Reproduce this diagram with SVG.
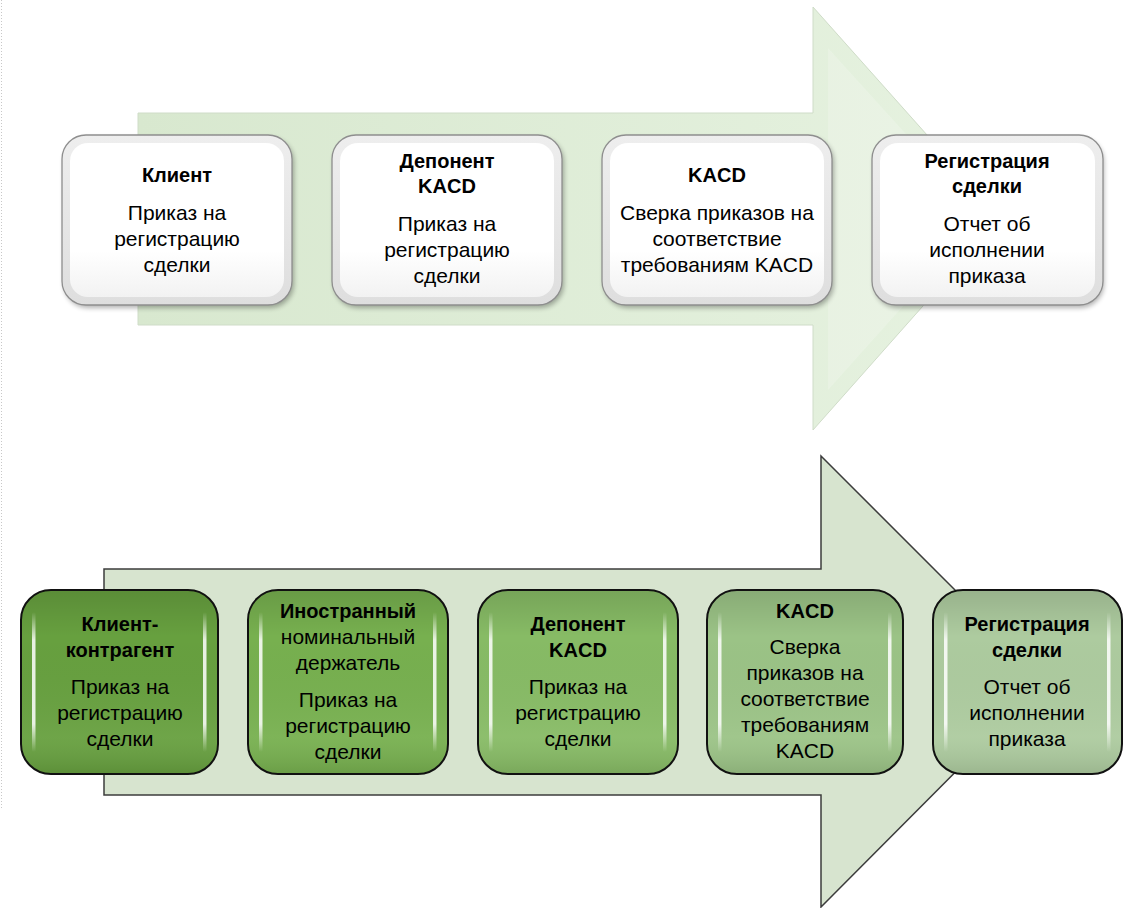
<svg xmlns="http://www.w3.org/2000/svg" width="1125" height="908" viewBox="0 0 1125 908">
<style>
.t{font-family:"Liberation Sans",Arial,sans-serif;font-size:21px;text-anchor:middle;fill:#000}
.b{font-weight:bold;font-size:20px}
.wbox{fill:url(#wg);stroke:#8e8e8e;stroke-width:1.3}
.winner{fill:url(#wi);stroke:none}
.gbox{stroke:#111;stroke-width:2}
.hl{fill:url(#hlg)}
.shade{fill:url(#gshade)}
</style>
<defs>
<linearGradient id="ta" x1="0" y1="0" x2="1" y2="0">
<stop offset="0" stop-color="#d8e8cf"/>
<stop offset="1" stop-color="#e6f2e0"/>
</linearGradient>
<linearGradient id="wg" x1="0" y1="0" x2="0" y2="1">
<stop offset="0" stop-color="#eeeeee"/>
<stop offset="1" stop-color="#dedede"/>
</linearGradient>
<linearGradient id="wi" x1="0" y1="0" x2="0" y2="1">
<stop offset="0" stop-color="#ffffff"/>
<stop offset="0.7" stop-color="#ffffff"/>
<stop offset="1" stop-color="#f2f2f2"/>
</linearGradient>
<linearGradient id="hlg" x1="0" y1="0" x2="0" y2="1">
<stop offset="0" stop-color="#fff" stop-opacity="0"/>
<stop offset="0.2" stop-color="#fff" stop-opacity="0.85"/>
<stop offset="0.8" stop-color="#fff" stop-opacity="0.85"/>
<stop offset="1" stop-color="#fff" stop-opacity="0"/>
</linearGradient>
<linearGradient id="gshade" x1="0" y1="0" x2="0" y2="1">
<stop offset="0" stop-color="#000" stop-opacity="0.12"/>
<stop offset="0.25" stop-color="#000" stop-opacity="0"/>
<stop offset="0.8" stop-color="#fff" stop-opacity="0.05"/>
<stop offset="1" stop-color="#000" stop-opacity="0.1"/>
</linearGradient>
<filter id="sh" x="-10%" y="-10%" width="120%" height="130%">
<feGaussianBlur stdDeviation="2.5"/>
</filter>
</defs>

<line x1="1.5" y1="0" x2="1.5" y2="808" stroke="#c8c8c8" stroke-width="1" stroke-dasharray="1,2"/>

<g id="arrows">
<path d="M138,113 L813,113 L813,7 L1001,218 L813,430 L813,325 L138,325 Z" fill="url(#ta)" stroke="#cfdcc8" stroke-width="1"/>
<path d="M828,48 L982,218 L828,390 Z" fill="#ffffff" fill-opacity="0.18"/>
<path d="M104,569 L821,569 L821,456 L1046,681 L821,907 L821,795 L104,795 Z" fill="#d7e4cf" stroke="#3c3c3c" stroke-width="1.5"/>
</g>

<g id="top-1">
<rect x="64" y="138" width="230" height="170" rx="24" fill="#000" opacity="0.3" filter="url(#sh)"/>
<rect class="wbox" x="62" y="135" width="230" height="170" rx="24"/>
<rect class="winner" x="70" y="143" width="214" height="154" rx="18"/>
<text class="t b" x="177" y="182">Клиент</text>
<text class="t" x="177" y="220">Приказ на</text>
<text class="t" x="177" y="246">регистрацию</text>
<text class="t" x="177" y="272">сделки</text>
</g>
<g id="top-2">
<rect x="334" y="138" width="230" height="170" rx="24" fill="#000" opacity="0.3" filter="url(#sh)"/>
<rect class="wbox" x="332" y="135" width="230" height="170" rx="24"/>
<rect class="winner" x="340" y="143" width="214" height="154" rx="18"/>
<text class="t b" x="447" y="168">Депонент</text>
<text class="t b" x="447" y="193">KACD</text>
<text class="t" x="447" y="231">Приказ на</text>
<text class="t" x="447" y="257">регистрацию</text>
<text class="t" x="447" y="283">сделки</text>
</g>
<g id="top-3">
<rect x="604" y="138" width="230" height="170" rx="24" fill="#000" opacity="0.3" filter="url(#sh)"/>
<rect class="wbox" x="602" y="135" width="230" height="170" rx="24"/>
<rect class="winner" x="610" y="143" width="214" height="154" rx="18"/>
<text class="t b" x="717" y="182">KACD</text>
<text class="t" x="717" y="220">Сверка приказов на</text>
<text class="t" x="717" y="246">соответствие</text>
<text class="t" x="717" y="272">требованиям KACD</text>
</g>
<g id="top-4">
<rect x="874" y="138" width="230" height="170" rx="24" fill="#000" opacity="0.3" filter="url(#sh)"/>
<rect class="wbox" x="872" y="135" width="231" height="170" rx="24"/>
<rect class="winner" x="880" y="143" width="215" height="154" rx="18"/>
<text class="t b" x="987" y="168">Регистрация</text>
<text class="t b" x="987" y="193">сделки</text>
<text class="t" x="987" y="231">Отчет об</text>
<text class="t" x="987" y="257">исполнении</text>
<text class="t" x="987" y="283">приказа</text>
</g>

<g id="bottom-1">
<rect class="gbox" x="21" y="590" width="197" height="184" rx="30" fill="#67a03f"/>
<rect x="22" y="591" width="195" height="182" rx="29" class="shade"/>
<rect class="hl" x="32" y="612" width="3.5" height="140" rx="1.7"/>
<rect class="hl" x="203" y="612" width="3.5" height="140" rx="1.7"/>
<text class="t b" x="120" y="631">Клиент-</text>
<text class="t b" x="120" y="657">контрагент</text>
<text class="t" x="120" y="694">Приказ на</text>
<text class="t" x="120" y="720">регистрацию</text>
<text class="t" x="120" y="746">сделки</text>
</g>
<g id="bottom-2">
<rect class="gbox" x="248" y="590" width="200" height="184" rx="30" fill="#77b04f"/>
<rect x="249" y="591" width="198" height="182" rx="29" class="shade"/>
<rect class="hl" x="259" y="612" width="3.5" height="140" rx="1.7"/>
<rect class="hl" x="433" y="612" width="3.5" height="140" rx="1.7"/>
<text class="t b" x="348" y="618">Иностранный</text>
<text class="t" x="348" y="644">номинальный</text>
<text class="t" x="348" y="670">держатель</text>
<text class="t" x="348" y="707">Приказ на</text>
<text class="t" x="348" y="733">регистрацию</text>
<text class="t" x="348" y="759">сделки</text>
</g>
<g id="bottom-3">
<rect class="gbox" x="478" y="590" width="200" height="184" rx="30" fill="#87bb65"/>
<rect x="479" y="591" width="198" height="182" rx="29" class="shade"/>
<rect class="hl" x="489" y="612" width="3.5" height="140" rx="1.7"/>
<rect class="hl" x="663" y="612" width="3.5" height="140" rx="1.7"/>
<text class="t b" x="578" y="631">Депонент</text>
<text class="t b" x="578" y="657">KACD</text>
<text class="t" x="578" y="694">Приказ на</text>
<text class="t" x="578" y="720">регистрацию</text>
<text class="t" x="578" y="746">сделки</text>
</g>
<g id="bottom-4">
<rect class="gbox" x="707" y="590" width="196" height="184" rx="30" fill="#9bc386"/>
<rect x="708" y="591" width="194" height="182" rx="29" class="shade"/>
<rect class="hl" x="718" y="612" width="3.5" height="140" rx="1.7"/>
<rect class="hl" x="888" y="612" width="3.5" height="140" rx="1.7"/>
<text class="t b" x="805" y="618">KACD</text>
<text class="t" x="805" y="654">Сверка</text>
<text class="t" x="805" y="680">приказов на</text>
<text class="t" x="805" y="706">соответствие</text>
<text class="t" x="805" y="732">требованиям</text>
<text class="t" x="805" y="758">KACD</text>
</g>
<g id="bottom-5">
<rect class="gbox" x="933" y="590" width="189" height="184" rx="30" fill="#adcb9f"/>
<rect x="934" y="591" width="187" height="182" rx="29" class="shade"/>
<rect class="hl" x="944" y="612" width="3.5" height="140" rx="1.7"/>
<rect class="hl" x="1107" y="612" width="3.5" height="140" rx="1.7"/>
<text class="t b" x="1027" y="631">Регистрация</text>
<text class="t b" x="1027" y="657">сделки</text>
<text class="t" x="1027" y="694">Отчет об</text>
<text class="t" x="1027" y="720">исполнении</text>
<text class="t" x="1027" y="746">приказа</text>
</g>
</svg>
